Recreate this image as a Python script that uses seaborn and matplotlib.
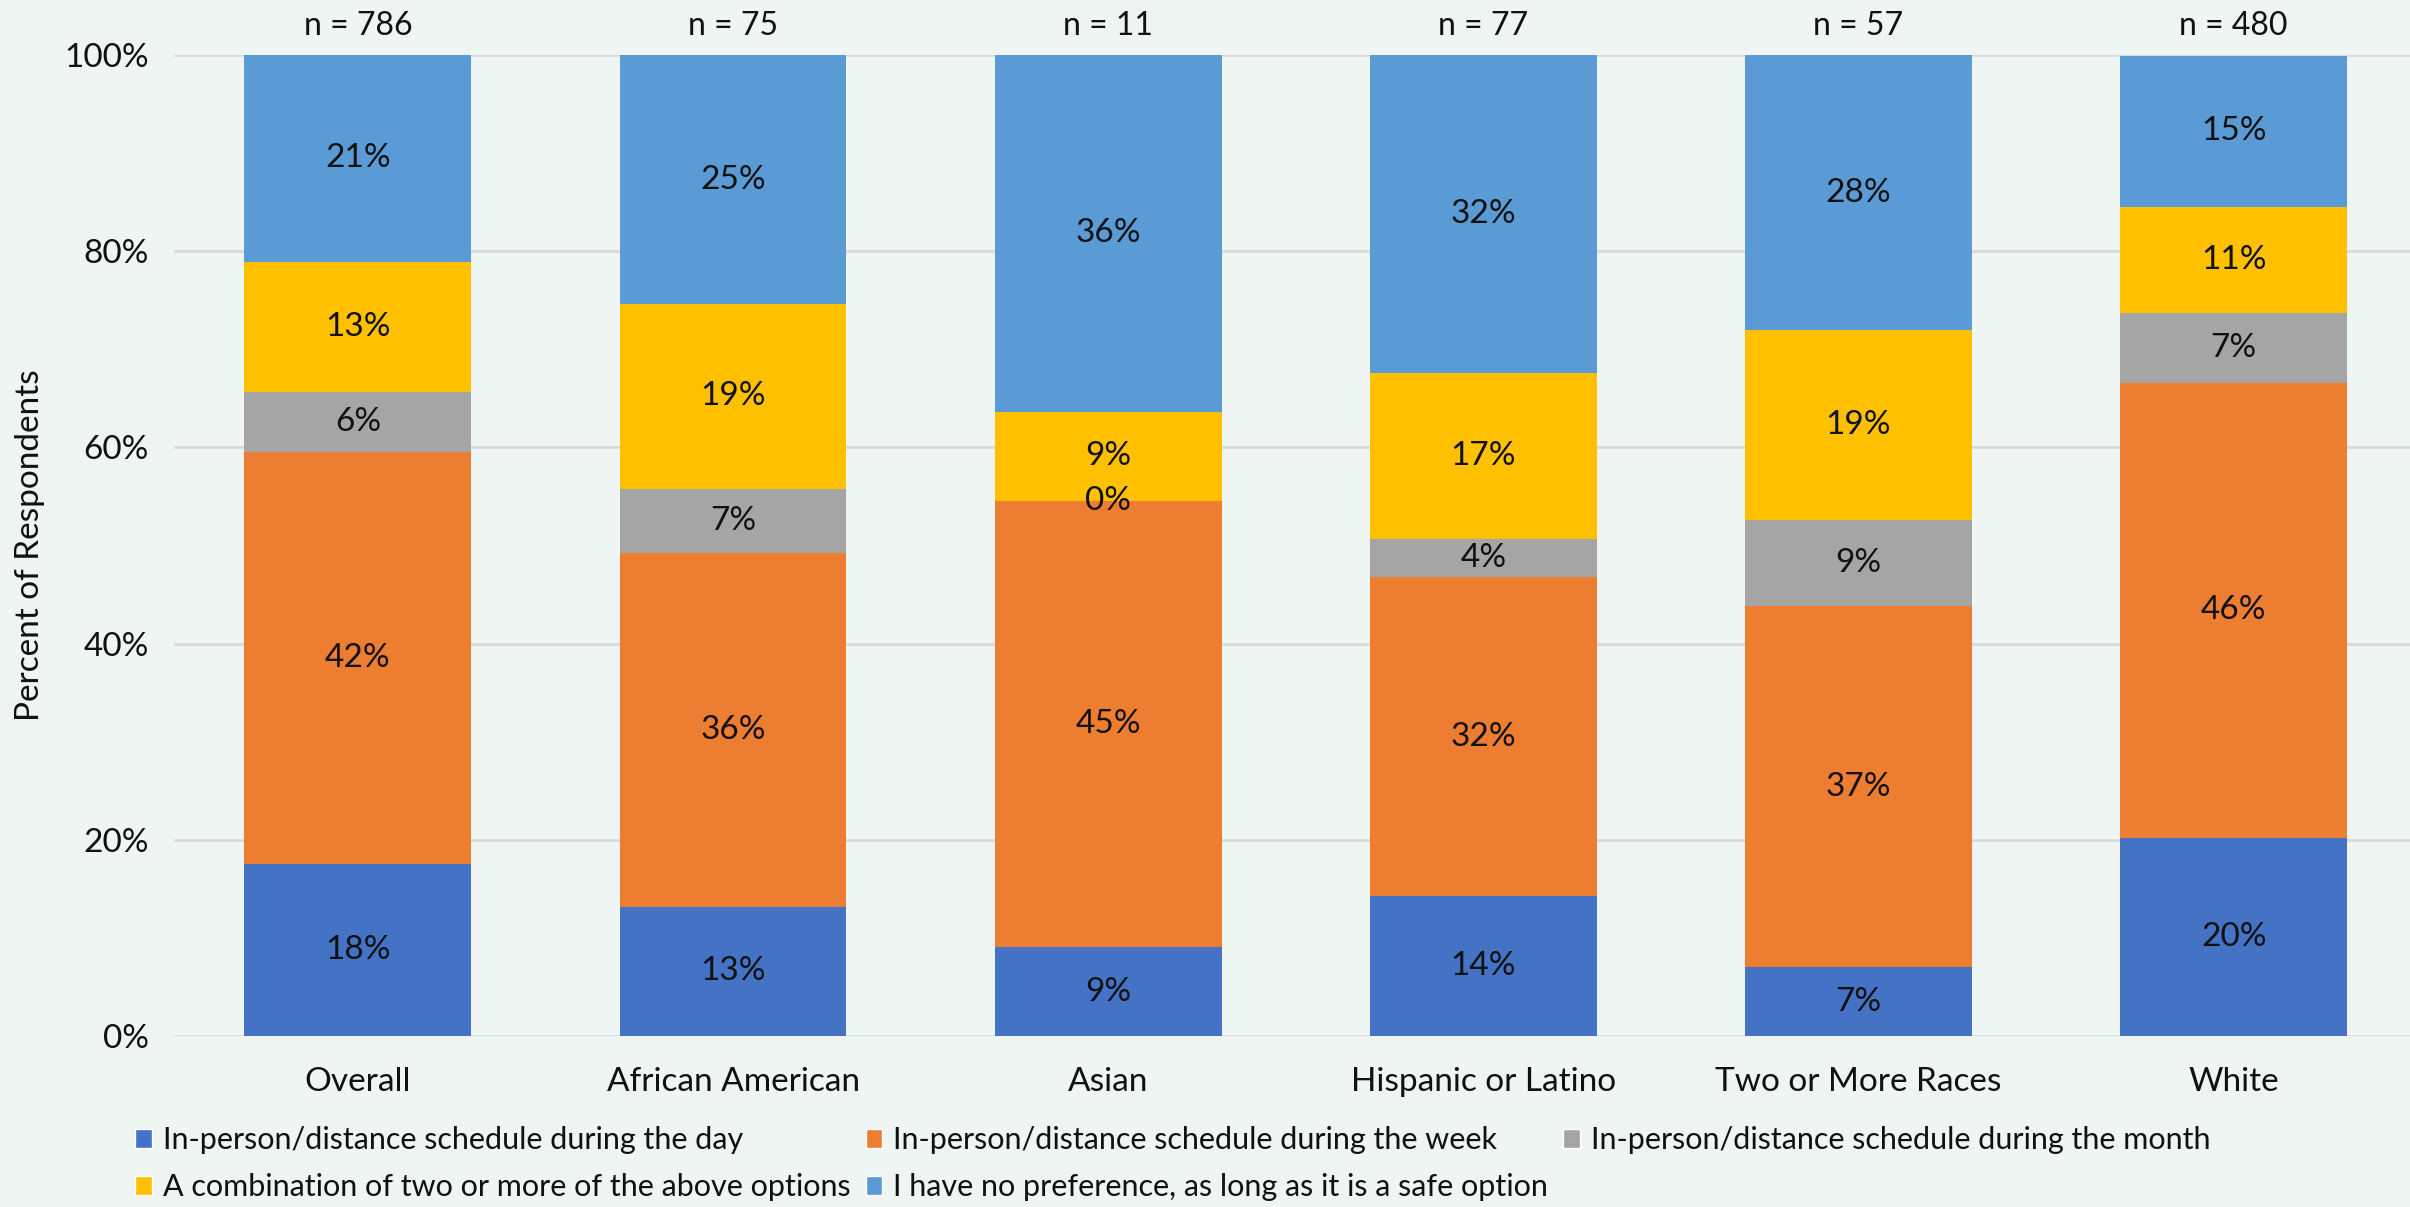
import matplotlib
matplotlib.use("Agg")
import matplotlib.pyplot as plt
import seaborn as sns
import pandas as pd
import numpy as np
from matplotlib.patches import Patch

categories = ["Overall", "African American", "Asian", "Hispanic or Latino", "Two or More Races", "White"]
n_labels = ["n = 786", "n = 75", "n = 11", "n = 77", "n = 57", "n = 480"]
series_names = [
    "In-person/distance schedule during the day",
    "In-person/distance schedule during the week",
    "In-person/distance schedule during the month",
    "A combination of two or more of the above options",
    "I have no preference, as long as it is a safe option",
]
day_vals = [17.6, 13.2, 9.09, 14.29, 7.02, 20.2]
week_vals = [41.9, 36.0, 45.45, 32.47, 36.84, 46.4]
month_vals = [6.1, 6.6, 0.0, 3.90, 8.77, 7.1]
combo_vals = [13.3, 18.8, 9.09, 16.88, 19.30, 10.8]
nopref_vals = [21.1, 25.4, 36.36, 32.47, 28.07, 15.4]
colors = ["#4472C4", "#ED7D31", "#A5A5A5", "#FFC000", "#5B9BD5"]

values = [day_vals, week_vals, month_vals, combo_vals, nopref_vals]
bg = "#EFF5F3"

sns.set_theme(style="white")
plt.rcParams["font.family"] = ["Lato", "DejaVu Sans"]

fig = plt.figure(figsize=(24.1, 12.07), dpi=100, facecolor=bg)
ax = fig.add_axes([0.0722, 0.1415, 0.9278, 0.813])
ax.set_facecolor(bg)

cum = np.cumsum(np.array(values), axis=0)
df_rows = []
for i, name in enumerate(series_names):
    for j, c in enumerate(categories):
        df_rows.append({"category": c, "series": name, "cum": cum[i, j], "val": values[i][j]})
df = pd.DataFrame(df_rows)

# draw cumulative bars from top series down
for i in range(len(series_names) - 1, -1, -1):
    sub = df[df["series"] == series_names[i]]
    sns.barplot(data=sub, x="category", y="cum", order=categories, color=colors[i],
                width=0.605, saturation=1, ax=ax, zorder=3, linewidth=0)

# segment labels
for i in range(len(series_names)):
    for j in range(len(categories)):
        v = values[i][j]
        bottom = cum[i, j] - v
        ax.text(j, bottom + v / 2, f"{v:.0f}%", ha="center", va="center",
                fontsize=24, color="#111111", zorder=5)

# n labels
for j, t in enumerate(n_labels):
    ax.text(j, 102.9, t, ha="center", va="center", fontsize=23, color="#111111", clip_on=False)

ax.set_ylim(0, 100)
ax.set_xlim(-0.49, 5.47)
ax.set_yticks(np.arange(0, 101, 20))
ax.set_yticklabels([f"{t}%" for t in range(0, 101, 20)], fontsize=24, color="#111111")
ax.tick_params(axis="x", labelsize=24, colors="#111111", length=0, pad=22)
ax.tick_params(axis="y", length=0, pad=18)
ax.yaxis.grid(True, color="#D9D9D9", linewidth=2, zorder=0)
ax.set_axisbelow(True)
for s in ax.spines.values():
    s.set_visible(False)
ax.set_xlabel("")
ax.set_ylabel("Percent of Respondents", fontsize=24, color="#111111", labelpad=14)

handles = [Patch(facecolor=colors[i], label=series_names[i]) for i in range(len(series_names))]
# matplotlib fills legend column-major; reorder to get row-major layout
order = [0, 3, 1, 4, 2]
leg = fig.legend(handles=[handles[k] for k in order], loc="upper left",
                 bbox_to_anchor=(0.051, 0.077), ncol=3,
                 frameon=False, fontsize=22, handlelength=0.55, handleheight=0.6,
                 handletextpad=0.35, columnspacing=0.5, labelspacing=0.62, borderaxespad=0)
for t in leg.get_texts():
    t.set_color("#111111")

fig.savefig("out.png", dpi=100, facecolor=bg)
